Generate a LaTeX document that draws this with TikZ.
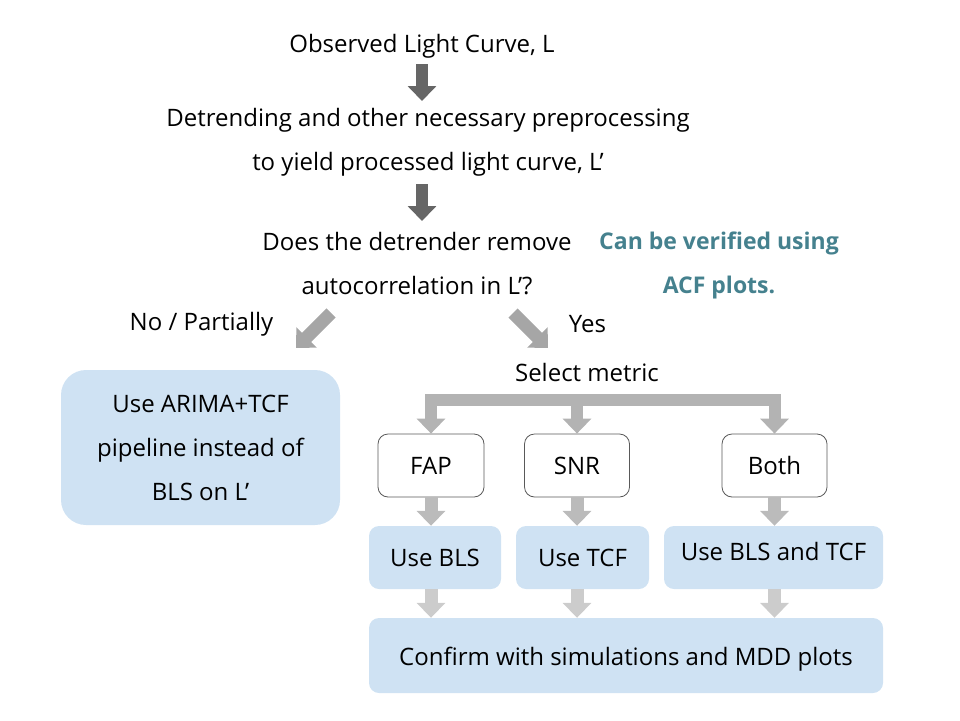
\documentclass[tikz,border=0pt]{standalone}
\usepackage{fontspec}
\setmainfont{Open Sans}
\usetikzlibrary{positioning,arrows.meta,calc}

\definecolor{boxblue}{HTML}{CFE2F3}
\definecolor{boxline}{HTML}{595959}
\definecolor{noteteal}{HTML}{45818E}
\definecolor{darkarrow}{HTML}{666666}
\definecolor{midarrow}{HTML}{A6A6A6}
\definecolor{bararrow}{HTML}{B3B3B3}
\definecolor{lightarrow}{HTML}{CCCCCC}

\begin{document}
\begin{tikzpicture}[x=1pt,y=-1pt,
    font=\fontsize{24}{44}\selectfont,
    txt/.style={align=center,inner sep=0pt},
    bluebox/.style={rectangle,rounded corners=10pt,fill=boxblue,minimum height=63pt,align=center,inner sep=0pt},
    metricbox/.style={rectangle,rounded corners=10pt,draw=boxline,line width=0.8pt,fill=white,minimum width=105pt,minimum height=63pt,inner sep=0pt},
    fatarrow/.style={line width=12pt,-{Triangle[width=28pt,length=15pt]}},
    darrow/.style={fatarrow,draw=darkarrow},
    marrow/.style={fatarrow,line width=13pt,draw=midarrow},
    barrow/.style={fatarrow,line width=12pt,draw=bararrow},
    sarrow/.style={fatarrow,line width=13pt,draw=bararrow!90!white},
    larrow/.style={fatarrow,line width=13pt,draw=lightarrow}
]
\useasboundingbox (0,0) rectangle (960,720);

% Top of the flow
\node[txt] (observed) at (422,46) {Observed Light Curve, L};
\node[txt] (detrend) at (428,142) {Detrending and other necessary preprocessing\\to yield processed light curve, L’};
\node[txt] (question) at (417,264) {Does the detrender remove\\autocorrelation in L’?};
\node[txt,font=\fontsize{23}{44}\selectfont\bfseries,text=noteteal] (note) at (719,265.5) {Can be verified using\\ACF plots.};

\draw[darrow,shorten <=6pt,shorten >=41pt] (observed) -- (observed |- detrend);
\draw[darrow,shorten <=42pt,shorten >=43pt] (observed |- detrend) -- (observed |- question);

% Branches
\node[txt] (no) at (201.5,324) {No / Partially};
\node[txt] (yes) at (587.5,324) {Yes};
\coordinate (nostart) at (331,313);
\coordinate (noend) at (296,348);
\coordinate (yesstart) at (513,313);
\coordinate (yesend) at (548,348);
\draw[marrow] (nostart) -- (noend);
\draw[marrow] (yesstart) -- (yesend);

% Left: autocorrelation remains
\node[bluebox,rounded corners=25pt,minimum width=279pt,minimum height=155pt] (arima) at (200.5,447.5) {Use ARIMA+TCF\\pipeline instead of\\BLS on L’};

% Right: metric selection
\node[txt] (select) at (587,372) {Select metric};
\node[metricbox,minimum width=106pt] (fap) at (431,465.5) {FAP};
\node[metricbox] (snr) at (577,465.5) {SNR};
\node[metricbox] (both) at (774.5,465.5) {Both};
\coordinate (split) at (577,400);
\draw[barrow] (split) -| (fap);
\draw[barrow] (split) -| (both);
\draw[barrow] (split) -- (snr);

\node[bluebox,minimum width=132pt] (bls) at (435,557.5) {Use BLS};
\node[bluebox,minimum width=133pt] (tcf) at (582.5,557.5) {Use TCF};
\node[bluebox,minimum width=219pt,text height=21pt,text depth=15pt] (blstcf) at (773.5,557.5) {Use BLS and TCF};
\foreach \m/\u in {fap/bls,snr/tcf,both/blstcf} {
    \draw[sarrow] (\m) -- (\m |- \u.north);
}

\node[bluebox,minimum width=514pt,minimum height=75pt,text height=26pt,text depth=6pt] (confirm) at (626,655.5) {Confirm with simulations and MDD plots};
\foreach \u in {fap,snr,both} {
    \draw[larrow] (\u |- bls.south) -- (\u |- confirm.north);
}

\end{tikzpicture}
\end{document}
